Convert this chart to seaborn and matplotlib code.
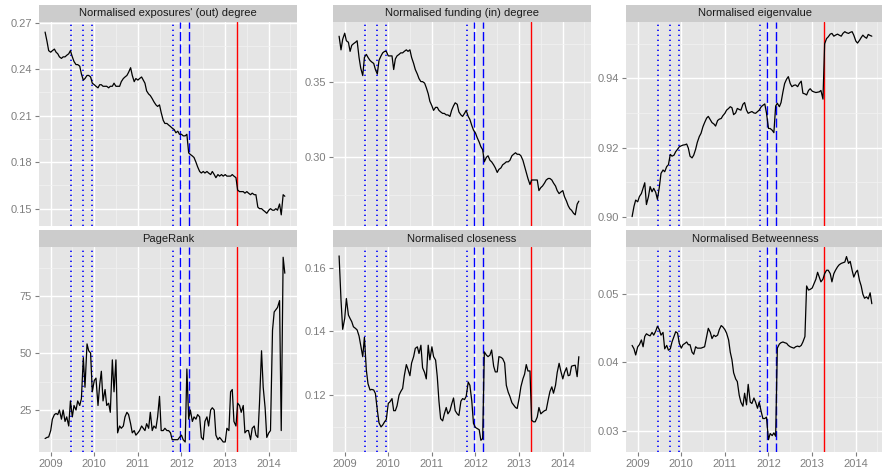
import matplotlib
matplotlib.use("Agg")
import matplotlib.pyplot as plt
import matplotlib.dates as mdates
from matplotlib.ticker import FixedLocator, FormatStrFormatter
import numpy as np
import pandas as pd
import seaborn as sns

# Semi-monthly observation dates (1st and 15th of each month)
dates = pd.date_range("2008-11-15", "2014-05-15", freq="SMS")

out_degree = [
    0.264, 0.258, 0.252, 0.251, 0.252, 0.253, 0.251, 0.250, 0.248, 0.247,
    0.248, 0.248, 0.249, 0.250, 0.252, 0.248, 0.245, 0.243, 0.243, 0.242,
    0.237, 0.233, 0.234, 0.236, 0.236, 0.235, 0.231, 0.230, 0.229, 0.228,
    0.230, 0.230, 0.229, 0.229, 0.229, 0.228, 0.229, 0.229, 0.231, 0.229,
    0.229, 0.229, 0.232, 0.234, 0.235, 0.236, 0.238, 0.241, 0.236, 0.232,
    0.234, 0.233, 0.234, 0.235, 0.233, 0.231, 0.226, 0.224, 0.223, 0.221,
    0.219, 0.217, 0.216, 0.217, 0.212, 0.207, 0.205, 0.205, 0.204, 0.203,
    0.202, 0.201, 0.199, 0.200, 0.198, 0.198, 0.197, 0.197, 0.198, 0.186,
    0.185, 0.184, 0.183, 0.180, 0.177, 0.174, 0.173, 0.174, 0.173, 0.174,
    0.173, 0.172, 0.174, 0.172, 0.170, 0.172, 0.171, 0.172, 0.171, 0.172,
    0.171, 0.171, 0.171, 0.172, 0.171, 0.170, 0.162, 0.161, 0.161, 0.161,
    0.160, 0.161, 0.160, 0.159, 0.160, 0.159, 0.159, 0.151, 0.150, 0.150,
    0.149, 0.148, 0.147, 0.149, 0.150, 0.149, 0.149, 0.150, 0.149, 0.153,
    0.146, 0.159, 0.158,
]

in_degree = [
    0.380, 0.371, 0.378, 0.382, 0.377, 0.376, 0.370, 0.374, 0.375, 0.376,
    0.377, 0.366, 0.359, 0.354, 0.366, 0.368, 0.366, 0.364, 0.363, 0.362,
    0.358, 0.355, 0.364, 0.367, 0.369, 0.370, 0.370, 0.367, 0.367, 0.367,
    0.358, 0.365, 0.367, 0.368, 0.369, 0.369, 0.370, 0.371, 0.370, 0.371,
    0.366, 0.362, 0.358, 0.355, 0.352, 0.350, 0.350, 0.349, 0.346, 0.342,
    0.337, 0.334, 0.331, 0.333, 0.333, 0.331, 0.330, 0.329, 0.329, 0.328,
    0.328, 0.327, 0.331, 0.334, 0.336, 0.335, 0.330, 0.328, 0.327, 0.329,
    0.331, 0.327, 0.325, 0.321, 0.318, 0.316, 0.313, 0.310, 0.307, 0.305,
    0.297, 0.300, 0.301, 0.298, 0.297, 0.295, 0.293, 0.290, 0.292, 0.293,
    0.295, 0.296, 0.297, 0.297, 0.298, 0.301, 0.302, 0.303, 0.302, 0.302,
    0.301, 0.298, 0.294, 0.290, 0.286, 0.282, 0.285, 0.285, 0.285, 0.285,
    0.278, 0.280, 0.281, 0.283, 0.285, 0.286, 0.286, 0.285, 0.283, 0.281,
    0.278, 0.276, 0.277, 0.278, 0.274, 0.271, 0.268, 0.266, 0.265, 0.263,
    0.262, 0.269, 0.271,
]

eigenvalue = [
    0.9000, 0.9030, 0.9048, 0.9043, 0.9058, 0.9067, 0.9082, 0.9098, 0.9035, 0.9058,
    0.9087, 0.9072, 0.9082, 0.9070, 0.9050, 0.9085, 0.9125, 0.9135, 0.9130, 0.9145,
    0.9150, 0.9180, 0.9175, 0.9178, 0.9188, 0.9195, 0.9202, 0.9205, 0.9207, 0.9208,
    0.9210, 0.9198, 0.9175, 0.9170, 0.9178, 0.9195, 0.9215, 0.9232, 0.9241, 0.9260,
    0.9272, 0.9285, 0.9290, 0.9280, 0.9272, 0.9268, 0.9262, 0.9278, 0.9282, 0.9284,
    0.9292, 0.9299, 0.9308, 0.9313, 0.9318, 0.9315, 0.9295, 0.9300, 0.9313, 0.9310,
    0.9308, 0.9325, 0.9330, 0.9308, 0.9299, 0.9302, 0.9304, 0.9300, 0.9299, 0.9304,
    0.9308, 0.9318, 0.9322, 0.9326, 0.9300, 0.9255, 0.9255, 0.9250, 0.9243, 0.9320,
    0.9328, 0.9318, 0.9330, 0.9361, 0.9385, 0.9398, 0.9405, 0.9385, 0.9376, 0.9380,
    0.9381, 0.9376, 0.9385, 0.9392, 0.9357, 0.9355, 0.9352, 0.9365, 0.9370, 0.9363,
    0.9361, 0.9359, 0.9360, 0.9361, 0.9365, 0.9340, 0.9500, 0.9515, 0.9520, 0.9528,
    0.9530, 0.9522, 0.9525, 0.9528, 0.9525, 0.9522, 0.9530, 0.9535, 0.9532, 0.9530,
    0.9533, 0.9535, 0.9525, 0.9508, 0.9502, 0.9510, 0.9518, 0.9525, 0.9520, 0.9516,
    0.9527, 0.9524, 0.9522,
]

pagerank = [
    12.5, 13, 13.2, 16, 21, 23, 23.5, 23, 25, 21,
    25, 20, 22, 18, 29, 22, 27, 25, 29, 27,
    30, 48, 35, 54, 51, 50, 33, 38, 39, 27,
    36, 42, 29, 34, 27, 28, 24, 47, 33, 47,
    15, 18, 17, 18, 22, 24, 23, 19, 15, 16,
    14, 15, 16, 18, 17, 16, 19, 17, 24, 16,
    18, 17, 22, 31, 16, 16, 17, 16, 16, 15,
    12, 12, 12, 12, 13, 14, 12, 11, 43, 21,
    25, 20, 22, 21, 23, 22, 13, 12, 20, 22,
    18, 25, 26, 25, 14, 12, 13, 12, 11, 11,
    17, 16, 33, 34, 20, 18, 28, 27, 24, 27,
    15, 16, 16, 12, 17, 18, 14, 13, 28, 51,
    35, 26, 13, 15, 16, 60, 68, 69, 70, 73,
    16, 92, 85,
]

closeness = [
    0.1637, 0.1498, 0.1406, 0.1440, 0.1503, 0.1451, 0.1440, 0.1430, 0.1414, 0.1409,
    0.1404, 0.1385, 0.1356, 0.1320, 0.1381, 0.1278, 0.1235, 0.1215, 0.1217, 0.1215,
    0.1204, 0.1152, 0.1112, 0.1099, 0.1105, 0.1115, 0.1122, 0.1173, 0.1178, 0.1188,
    0.1150, 0.1150, 0.1165, 0.1199, 0.1210, 0.1220, 0.1260, 0.1295, 0.1280, 0.1260,
    0.1300, 0.1320, 0.1346, 0.1351, 0.1330, 0.1356, 0.1285, 0.1270, 0.1250, 0.1356,
    0.1310, 0.1351, 0.1320, 0.1309, 0.1257, 0.1180, 0.1125, 0.1118, 0.1140, 0.1160,
    0.1140, 0.1150, 0.1170, 0.1190, 0.1150, 0.1140, 0.1135, 0.1180, 0.1188, 0.1185,
    0.1195, 0.1240, 0.1230, 0.1180, 0.1110, 0.1097, 0.1094, 0.1090, 0.1057, 0.1062,
    0.1335, 0.1325, 0.1320, 0.1325, 0.1341, 0.1290, 0.1272, 0.1272, 0.1320, 0.1318,
    0.1314, 0.1300, 0.1230, 0.1208, 0.1195, 0.1175, 0.1168, 0.1160, 0.1157, 0.1190,
    0.1225, 0.1250, 0.1265, 0.1295, 0.1275, 0.1275, 0.1120, 0.1115, 0.1115, 0.1130,
    0.1160, 0.1140, 0.1145, 0.1150, 0.1152, 0.1185, 0.1210, 0.1225, 0.1205, 0.1230,
    0.1270, 0.1299, 0.1275, 0.1250, 0.1270, 0.1285, 0.1260, 0.1262, 0.1290, 0.1292,
    0.1293, 0.1257, 0.1320,
]

betweenness = [
    0.0425, 0.0420, 0.0411, 0.0423, 0.0426, 0.0433, 0.0423, 0.0438, 0.0442, 0.0440,
    0.0439, 0.0444, 0.0440, 0.0446, 0.0453, 0.0448, 0.0440, 0.0444, 0.0420, 0.0425,
    0.0418, 0.0420, 0.0430, 0.0438, 0.0445, 0.0443, 0.0428, 0.0421, 0.0426, 0.0428,
    0.0430, 0.0426, 0.0426, 0.0415, 0.0412, 0.0423, 0.0421, 0.0421, 0.0421, 0.0422,
    0.0423, 0.0438, 0.0450, 0.0444, 0.0435, 0.0440, 0.0438, 0.0440, 0.0448, 0.0454,
    0.0452, 0.0448, 0.0443, 0.0433, 0.0415, 0.0404, 0.0385, 0.0376, 0.0372, 0.0352,
    0.0342, 0.0336, 0.0355, 0.0338, 0.0368, 0.0342, 0.0340, 0.0348, 0.0342, 0.0333,
    0.0342, 0.0328, 0.0318, 0.0318, 0.0320, 0.0287, 0.0296, 0.0293, 0.0297, 0.0292,
    0.0421, 0.0427, 0.0429, 0.0430, 0.0429, 0.0428, 0.0425, 0.0423, 0.0422, 0.0421,
    0.0423, 0.0424, 0.0423, 0.0425, 0.0430, 0.0438, 0.0512, 0.0506, 0.0507, 0.0509,
    0.0515, 0.0522, 0.0532, 0.0525, 0.0518, 0.0522, 0.0530, 0.0535, 0.0535, 0.0530,
    0.0518, 0.0530, 0.0535, 0.0540, 0.0543, 0.0545, 0.0546, 0.0547, 0.0555, 0.0545,
    0.0548, 0.0535, 0.0525, 0.0532, 0.0535, 0.0520, 0.0512, 0.0500, 0.0494, 0.0496,
    0.0493, 0.0502, 0.0486,
]

titles = [
    "Normalised exposures' (out) degree",
    "Normalised funding (in) degree",
    "Normalised eigenvalue",
    "PageRank",
    "Normalised closeness",
    "Normalised Betweenness",
]
series = [out_degree, in_degree, eigenvalue, pagerank, closeness, betweenness]

# Policy event dates
dotted_events = ["2009-06-20", "2009-09-28", "2009-12-16", "2011-10-25"]
dashed_events = ["2011-12-21", "2012-02-29"]
red_events = ["2013-04-09"]

# Per-panel y ranges, major breaks and label formats
y_limits = [(0.1388, 0.2705), (0.2546, 0.3894), (0.8973, 0.9563),
            (6.6, 96.5), (0.1020, 0.1665), (0.0269, 0.0569)]
y_major = [[0.15, 0.18, 0.21, 0.24, 0.27], [0.30, 0.35], [0.90, 0.92, 0.94],
           [25, 50, 75], [0.12, 0.14, 0.16], [0.03, 0.04, 0.05]]
y_fmt = ["%.2f", "%.2f", "%.2f", "%d", "%.2f", "%.2f"]

frames = []
for t, vals in zip(titles, series):
    frames.append(pd.DataFrame({"date": dates[:len(vals)], "value": vals, "metric": t}))
df = pd.concat(frames, ignore_index=True)

sns.set_theme(style="white")
plt.rcParams["font.family"] = ["Liberation Sans", "DejaVu Sans"]

W, H = 882, 469
fig = plt.figure(figsize=(W / 100, H / 100), dpi=100)

col_left = [39, 333, 626]
panel_w = 258
rows = [dict(strip=(5, 22), panel=(22, 226)), dict(strip=(230, 247), panel=(247, 452))]

x_lo = pd.Timestamp("2008-09-25")
x_hi = pd.Timestamp("2014-08-25")

grey50 = "#7F7F7F"

for k, title in enumerate(titles):
    r, c = divmod(k, 3)
    lx = col_left[c]
    st, sb = rows[r]["strip"]
    pt, pb = rows[r]["panel"]

    ax = fig.add_axes([lx / W, 1 - pb / H, panel_w / W, (pb - pt) / H])
    ax.set_facecolor("#E5E5E5")
    for s in ax.spines.values():
        s.set_visible(False)

    sub = df[df["metric"] == title]

    for d in dotted_events:
        ax.axvline(pd.Timestamp(d), color="#0000FF", lw=1.2, ls=(0, (0.8, 2.2)),
                   snap=True, zorder=2)
    for d in dashed_events:
        ax.axvline(pd.Timestamp(d), color="#0000FF", lw=1.0, ls=(0, (6.5, 2.4)),
                   snap=True, zorder=2)
    for d in red_events:
        ax.axvline(pd.Timestamp(d), color="red", lw=1.0, snap=True, zorder=2)

    sns.lineplot(data=sub, x="date", y="value", ax=ax, color="black",
                 lw=0.9, estimator=None, sort=False, zorder=3)

    ax.set_xlim(x_lo, x_hi)
    ax.set_ylim(*y_limits[k])
    ax.set_xlabel("")
    ax.set_ylabel("")

    ax.xaxis.set_major_locator(mdates.YearLocator())
    ax.xaxis.set_major_formatter(mdates.DateFormatter("%Y"))
    ax.xaxis.set_minor_locator(mdates.MonthLocator(bymonth=7))

    maj = y_major[k]
    step = maj[1] - maj[0]
    minors = [maj[0] - step / 2] + [m + step / 2 for m in maj]
    ax.yaxis.set_major_locator(FixedLocator(maj))
    ax.yaxis.set_minor_locator(FixedLocator(minors))
    ax.yaxis.set_major_formatter(FormatStrFormatter(y_fmt[k]))

    ax.grid(which="major", color="white", lw=1.0, zorder=0)
    ax.grid(which="minor", color="#F2F2F2", lw=0.5, zorder=0)
    ax.set_axisbelow(True)

    ax.tick_params(axis="y", which="major", length=3, width=0.8, color=grey50,
                   labelcolor=grey50, labelsize=8, pad=2, left=True)
    ax.tick_params(axis="x", which="major", length=3, width=0.8, color=grey50,
                   labelcolor=grey50, labelsize=8, pad=2, bottom=(r == 1),
                   labelbottom=(r == 1))
    ax.tick_params(which="minor", length=0)

    sax = fig.add_axes([lx / W, 1 - sb / H, panel_w / W, (sb - st) / H])
    sax.set_facecolor("#CCCCCC")
    sax.set_xticks([])
    sax.set_yticks([])
    for s in sax.spines.values():
        s.set_visible(False)
    sax.text(0.5, 0.5, title, ha="center", va="center", fontsize=8,
             color="#1A1A1A", transform=sax.transAxes)

fig.savefig("out.png", dpi=100, facecolor="white")
